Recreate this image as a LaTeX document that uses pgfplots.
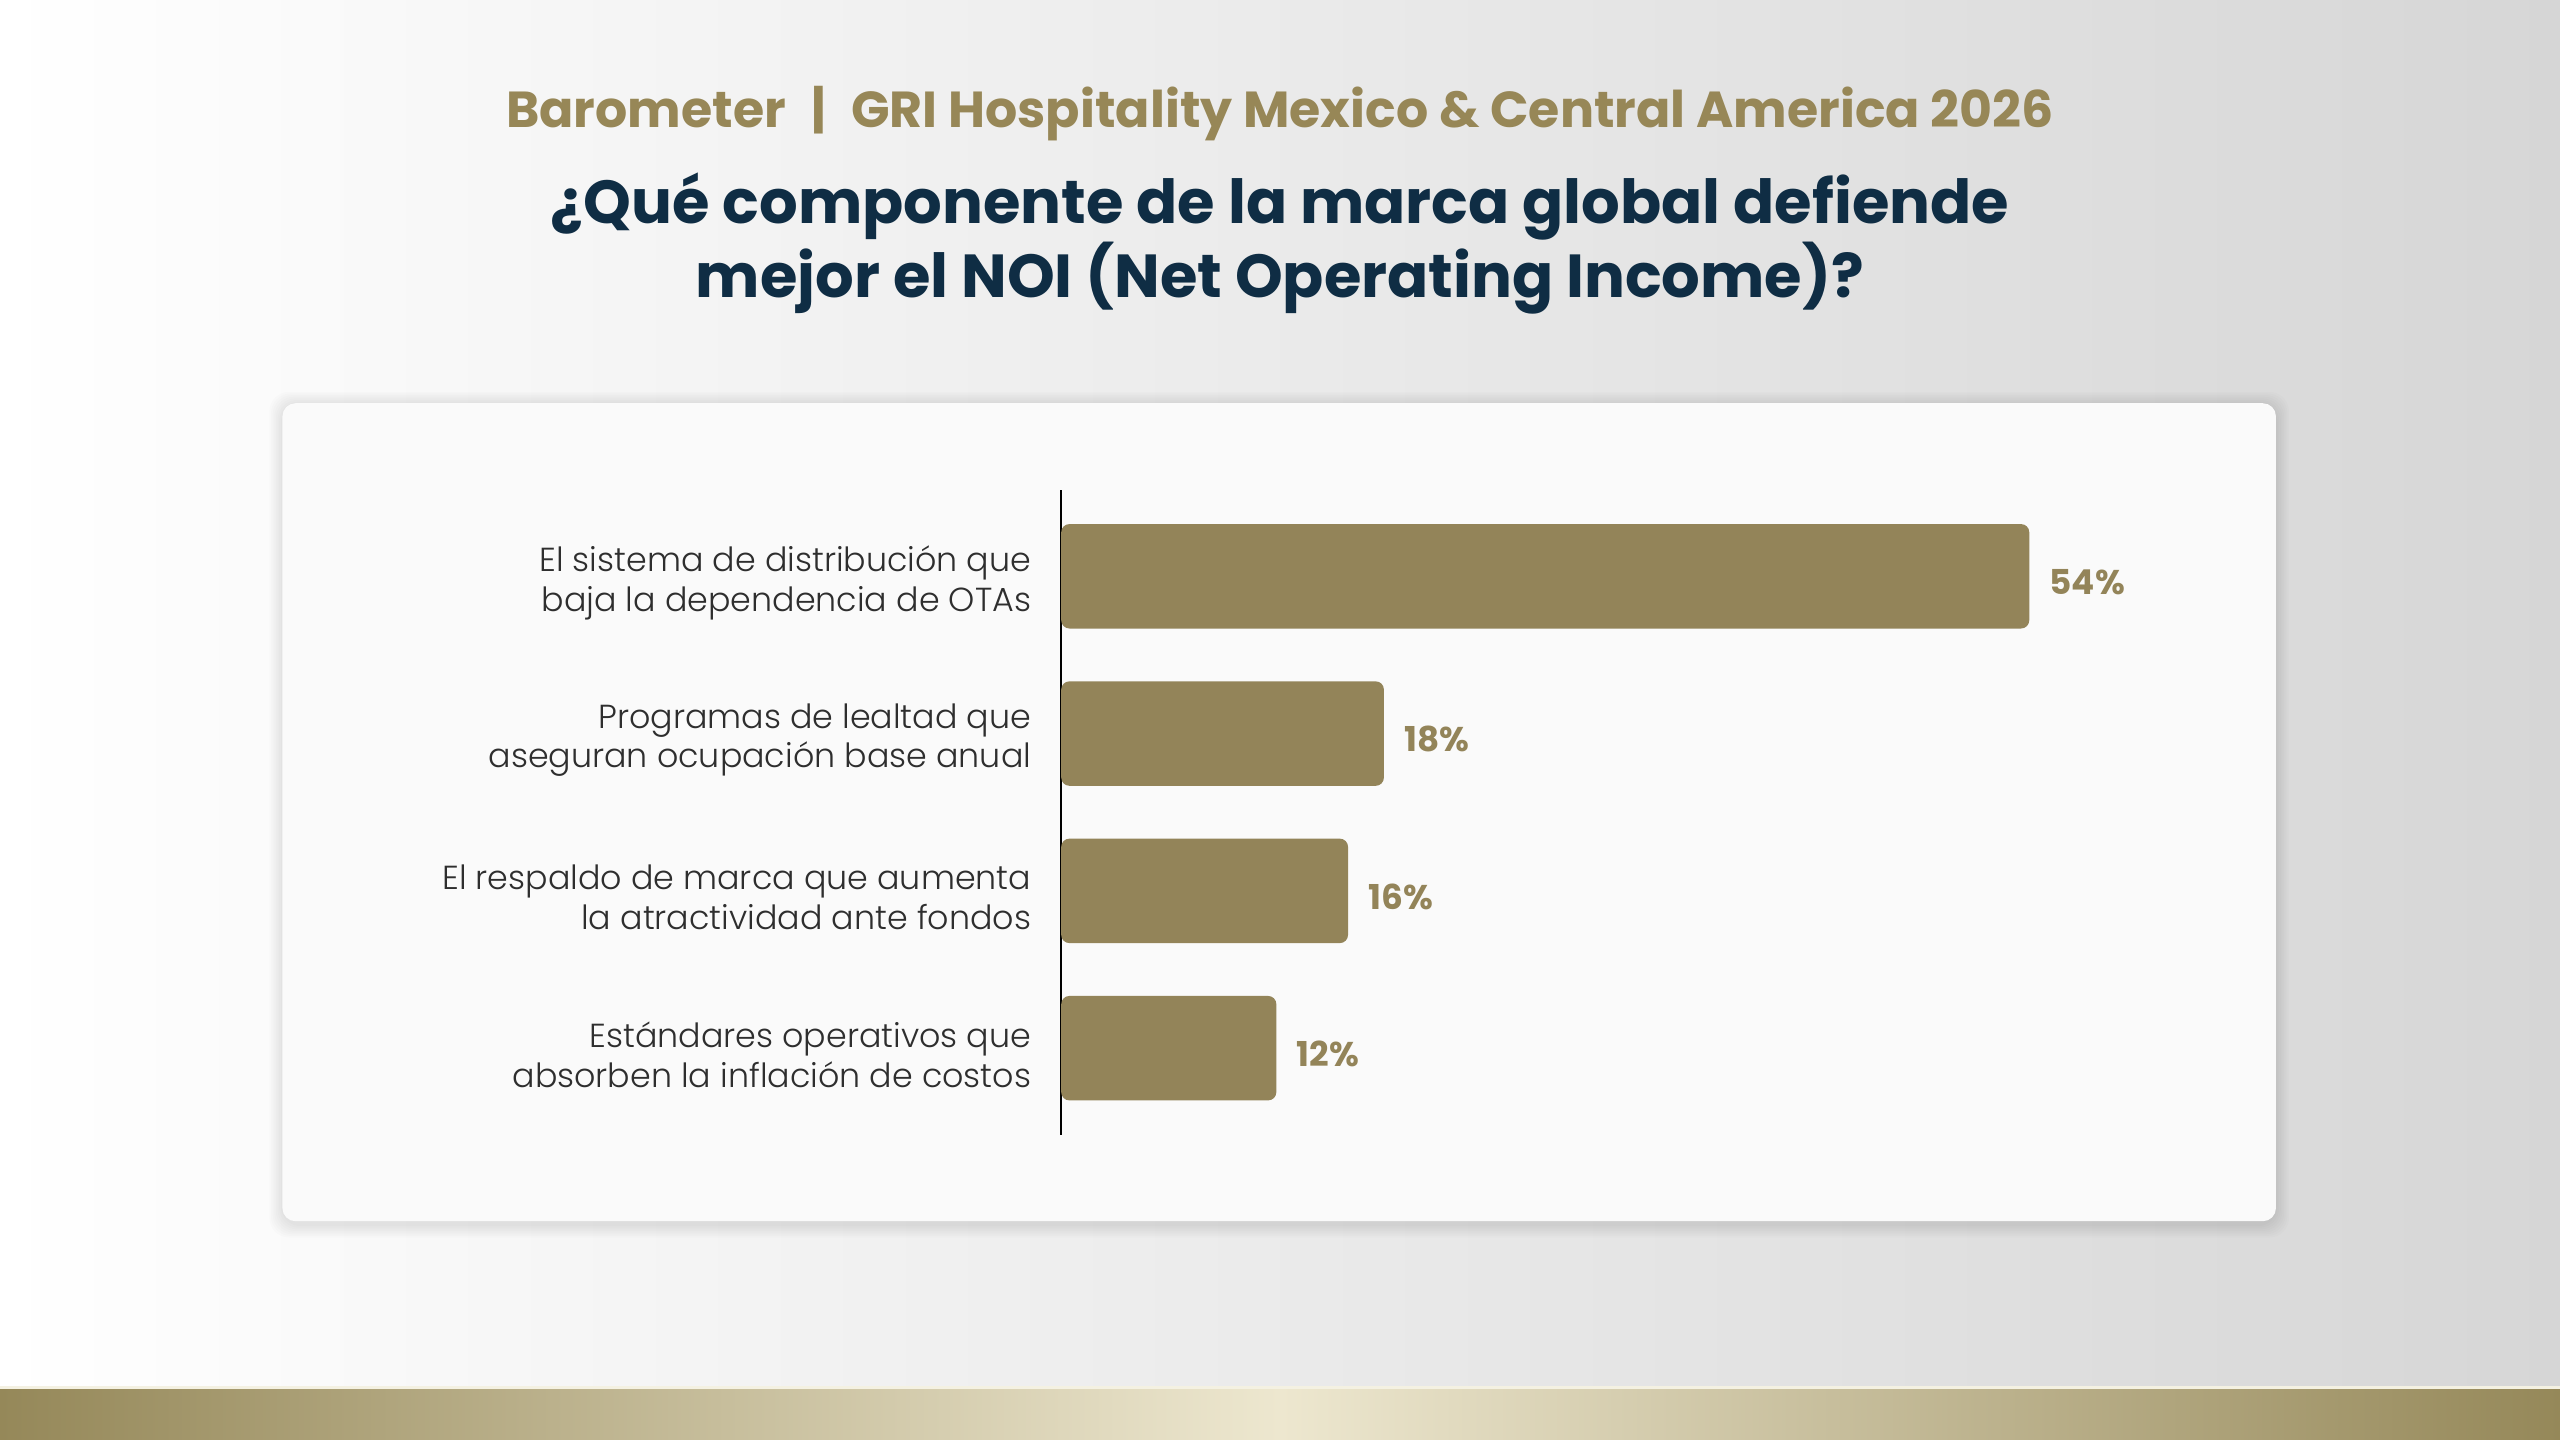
\documentclass[border=0pt]{standalone}
\usepackage{fontspec}
\setmainfont{Poppins}
\newfontfamily\lightfont{Poppins Light}
\usepackage{pgfplots}
\pgfplotsset{compat=1.18}
\definecolor{gold}{HTML}{938459}
\definecolor{titlegold}{HTML}{978757}
\definecolor{navy}{HTML}{0F2D44}
\definecolor{bgR}{HTML}{D6D6D6}
\definecolor{bandL}{HTML}{958859}
\definecolor{bandC}{HTML}{EDE7CF}
\definecolor{cardC}{HTML}{FAFAFA}
\definecolor{labelC}{HTML}{2E2E2E}
\begin{document}
\begin{tikzpicture}[x=0.5pt,y=0.5pt]
\useasboundingbox (0,0) rectangle (1568,882);
\shade[left color=white, right color=bgR] (0,0) rectangle (1568,882);
\shade[left color=bandL, right color=bandC] (0,0) rectangle (784,32);
\shade[left color=bandC, right color=bandL] (784,0) rectangle (1568,32);
\fill[bandC!60!white] (0,31.5) rectangle (1568,33);
% card shadow
\foreach \i in {1,...,8} {
  \fill[black, opacity=0.012, rounded corners=6] (173-\i,134-\i-2) rectangle (1394+\i,635+\i-1);
}
\fill[cardC, rounded corners=4] (173,134) rectangle (1394,635);
% titles
\node[anchor=base, inner sep=0pt, font=\bfseries\fontsize{15.5}{18}\selectfont, text=titlegold] at (784,804)
  {Barometer\enspace|\enspace GRI Hospitality Mexico \& Central America 2026};
\node[anchor=base, inner sep=0pt, font=\bfseries\fontsize{18.6}{22}\selectfont, text=navy] at (784,745)
  {¿Qué componente de la marca global defiende};
\node[anchor=base, inner sep=0pt, font=\bfseries\fontsize{18.6}{22}\selectfont, text=navy] at (784,700)
  {mejor el NOI (Net Operating Income)?};
\begin{axis}[
  at={(325pt,93.5pt)}, anchor=south west,
  scale only axis, width=329.4pt, height=197.5pt,
  xmin=0, xmax=60, ymin=-0.55, ymax=3.55,
  xbar, bar width=0.664,
  axis x line=none, axis y line=left,
  y axis line style={-, black, line width=0.6pt},
  ytick={0,1,2,3},
  yticklabels={{Estándares operativos que\\absorben la inflación de costos},
               {El respaldo de marca que aumenta\\la atractividad ante fondos},
               {Programas de lealtad que\\aseguran ocupación base anual},
               {El sistema de distribución que\\baja la dependencia de OTAs}},
  major tick length=0pt,
  yticklabel style={align=right, anchor=east, inner sep=0pt, xshift=-9pt, yshift=-2pt,
    font=\lightfont\fontsize{10.2}{12.2}\selectfont, text=labelC},
  nodes near coords={\pgfmathprintnumber{\pgfplotspointmeta}\%},
  nodes near coords style={anchor=west, inner sep=0pt, xshift=6pt, yshift=-1.7pt,
    font=\bfseries\fontsize{10.5}{12}\selectfont, text=gold,
    /pgf/number format/assume math mode=true},
  clip=false,
]
\addplot[fill=gold, draw=none, rounded corners=2.5pt] coordinates {(12,0) (16,1) (18,2) (54,3)};
\end{axis}
\end{tikzpicture}
\end{document}
